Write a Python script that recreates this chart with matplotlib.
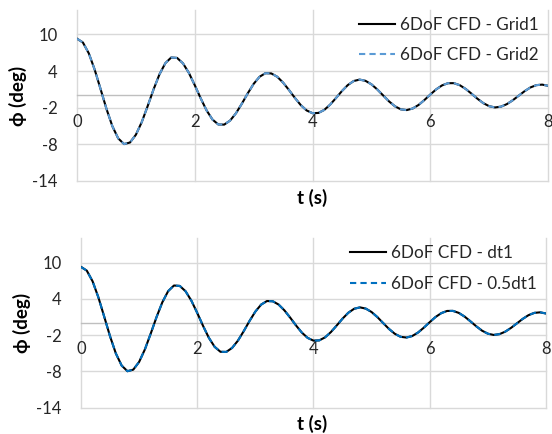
import matplotlib
matplotlib.use("Agg")
import matplotlib.pyplot as plt

# ---------------- data ----------------
t = [0.0, 0.1, 0.2, 0.3, 0.4, 0.5, 0.6, 0.7, 0.8, 0.9,
     1.0, 1.1, 1.2, 1.3, 1.4, 1.5, 1.6, 1.7, 1.8, 1.9,
     2.0, 2.1, 2.2, 2.3, 2.4, 2.5, 2.6, 2.7, 2.8, 2.9,
     3.0, 3.1, 3.2, 3.3, 3.4, 3.5, 3.6, 3.7, 3.8, 3.9,
     4.0, 4.1, 4.2, 4.3, 4.4, 4.5, 4.6, 4.7, 4.8, 4.9,
     5.0, 5.1, 5.2, 5.3, 5.4, 5.5, 5.6, 5.7, 5.8, 5.9,
     6.0, 6.1, 6.2, 6.3, 6.4, 6.5, 6.6, 6.7, 6.8, 6.9,
     7.0, 7.1, 7.2, 7.3, 7.4, 7.5, 7.6, 7.7, 7.8, 7.9, 8.0]

phi_grid1 = [9.30, 8.68, 6.91, 4.24, 1.06, -2.18, -5.02, -7.03, -7.96, -7.70,
             -6.43, -4.35, -1.74, 0.99, 3.45, 5.29, 6.22, 6.15, 5.26, 3.70,
             1.69, -0.45, -2.43, -3.93, -4.75, -4.77, -4.11, -2.91, -1.34, 0.35,
             1.90, 3.06, 3.65, 3.61, 3.07, 2.11, 0.90, -0.39, -1.57, -2.45,
             -2.90, -2.86, -2.36, -1.49, -0.40, 0.73, 1.71, 2.37, 2.60, 2.40,
             1.83, 0.99, 0.00, -0.97, -1.77, -2.27, -2.39, -2.14, -1.56, -0.75,
             0.15, 1.00, 1.65, 2.01, 2.02, 1.69, 1.08, 0.30, -0.52, -1.25,
             -1.75, -1.96, -1.83, -1.42, -0.79, -0.05, 0.69, 1.31, 1.69, 1.78, 1.59]

phi_grid2 = [9.30, 8.68, 6.91, 4.24, 1.06, -2.18, -5.02, -7.03, -7.96, -7.70,
             -6.43, -4.35, -1.74, 0.99, 3.45, 5.29, 6.22, 6.15, 5.26, 3.70,
             1.69, -0.45, -2.43, -3.93, -4.75, -4.77, -4.11, -2.91, -1.34, 0.35,
             1.90, 3.06, 3.65, 3.61, 3.07, 2.11, 0.90, -0.39, -1.57, -2.45,
             -2.90, -2.86, -2.36, -1.49, -0.40, 0.73, 1.71, 2.37, 2.60, 2.40,
             1.83, 0.99, 0.00, -0.97, -1.77, -2.27, -2.39, -2.14, -1.56, -0.75,
             0.15, 1.00, 1.65, 2.01, 2.02, 1.69, 1.08, 0.30, -0.52, -1.25,
             -1.75, -1.96, -1.83, -1.42, -0.79, -0.05, 0.69, 1.31, 1.69, 1.78, 1.59]

phi_dt1 = phi_grid1
phi_dt05 = phi_grid2

x_ticks = [0, 2, 4, 6, 8]
y_ticks = [-14, -8, -2, 4, 10]
labels_top = ["6DoF CFD - Grid1", "6DoF CFD - Grid2"]
labels_bot = ["6DoF CFD - dt1", "6DoF CFD - 0.5dt1"]
xlabel = "t (s)"
ylabel = "\u03d5 (deg)"

# ---------------- style ----------------
plt.rcParams['font.family'] = ['Lato', 'DejaVu Sans']
GRID = '#d9d9d9'
AXIS = '#bfbfbf'

fig = plt.figure(figsize=(5.52, 4.34), dpi=100)
ax1 = fig.add_axes([0.1395, 0.583, 0.8533, 0.394])
ax2 = fig.add_axes([0.1467, 0.0606, 0.8423, 0.3899])


def style(ax, y1, y2, blue, labels):
    ax.plot(t, y1, color='black', lw=1.5, label=labels[0], zorder=3)
    ax.plot(t, y2, color=blue, lw=1.5, ls=(0, (3, 2)), label=labels[1], zorder=4)
    ax.set_xlim(0, 8)
    ax.set_ylim(-14, 14)
    ax.set_xticks(x_ticks)
    ax.set_yticks(y_ticks)
    ax.set_xticklabels([str(v) for v in x_ticks])
    ax.set_yticklabels([str(v) for v in y_ticks])
    for s in ['top', 'right', 'left']:
        ax.spines[s].set_visible(False)
    ax.spines['bottom'].set_position(('data', 0))
    ax.spines['bottom'].set_color(AXIS)
    ax.spines['bottom'].set_linewidth(1.0)
    ax.spines['bottom'].set_zorder(2)
    ax.grid(True, color=GRID, lw=1.0, zorder=0)
    ax.set_axisbelow(True)
    ax.tick_params(axis='x', length=0, pad=13, labelsize=12, colors='#262626')
    ax.tick_params(axis='y', length=0, pad=14, labelsize=12, colors='#262626')
    ax.set_ylabel(ylabel, fontsize=13.5, fontweight='bold', labelpad=4)
    leg = ax.legend(loc='upper right', frameon=False, fontsize=12.3,
                    handlelength=2.1, handletextpad=0.3, labelspacing=0.85,
                    borderaxespad=0.0, bbox_to_anchor=(0.995, 1.0))
    for txt in leg.get_texts():
        txt.set_color('#262626')
    for ln in ax.get_xgridlines() + ax.get_ygridlines():
        ln.set_clip_on(False)


style(ax1, phi_grid1, phi_grid2, '#5B9BD5', labels_top)
style(ax2, phi_dt1, phi_dt05, '#0070C0', labels_bot)

fig.text(0.565, 1 - 198 / 434, xlabel, ha='center', va='center',
         fontsize=13.5, fontweight='bold')
fig.text(0.565, 1 - 424 / 434, xlabel, ha='center', va='center',
         fontsize=13.5, fontweight='bold')

fig.savefig('out.png', dpi=100)
